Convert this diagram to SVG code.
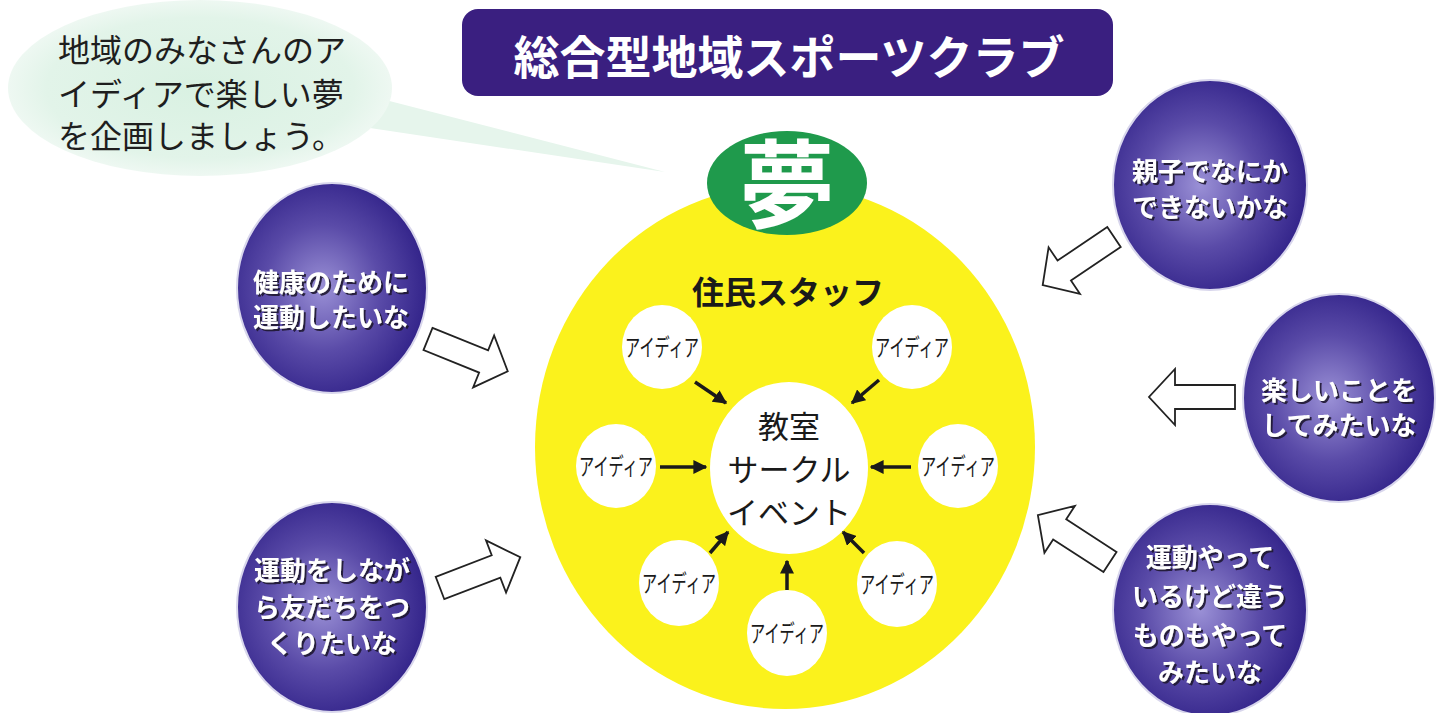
<svg xmlns="http://www.w3.org/2000/svg" width="1446" height="713" viewBox="0 0 1446 713">
<style>
text{font-family:"Noto Sans CJK JP","Noto Sans",sans-serif}
.bub{font-size:32px;fill:#1e1e1e}
.title{font-size:46px;font-weight:700;fill:#ffffff}
.pt{font-size:26px;font-weight:700;fill:#ffffff;text-anchor:middle}
.idea{font-size:24px;fill:#1a1a1a;text-anchor:middle}
.ctr{font-size:31px;fill:#1a1a1a;text-anchor:middle}
.staff{font-size:32px;font-weight:700;fill:#1a1a1a;text-anchor:middle}
.wc{fill:#ffffff}
.pc{fill:url(#pg);stroke:#d8d6ec;stroke-width:2}
.blk{fill:#ffffff;stroke:#222;stroke-width:1.8;stroke-linejoin:miter}
.ln{stroke:#1a1a1a;stroke-width:3.5;fill:none;marker-end:url(#ah)}
</style>
<defs>
<radialGradient id="pg" cx="0.45" cy="0.5" r="0.55">
<stop offset="0" stop-color="#9a90d6"/>
<stop offset="0.55" stop-color="#5a4ba8"/>
<stop offset="1" stop-color="#33248a"/>
</radialGradient>
<radialGradient id="bg" cx="0.5" cy="0.5" r="0.5">
<stop offset="0" stop-color="#d9f1e2"/>
<stop offset="0.8" stop-color="#e2f4e9"/>
<stop offset="1" stop-color="#eef8f2"/>
</radialGradient>
<marker id="ah" viewBox="0 0 10 10" refX="9" refY="5" markerWidth="4" markerHeight="4" orient="auto" markerUnits="strokeWidth">
<path d="M0,0 L10,5 L0,10 Z" fill="#1a1a1a"/>
</marker>
<filter id="sh" x="-10%" y="-20%" width="130%" height="150%">
<feDropShadow dx="2" dy="2" stdDeviation="0.6" flood-color="#1a1530" flood-opacity="0.9"/>
</filter>
<path id="arr" d="M0,-12 L60,-12 L60,-28 L86,0 L60,28 L60,12 L0,12 Z"/>
</defs>
<rect width="1446" height="713" fill="#ffffff"/>

<g id="speech-bubble">
<polygon points="370,96 665,172 370,128" fill="#e6f5ec"/>
<ellipse cx="200" cy="88" rx="192" ry="88" fill="url(#bg)"/>
<text class="bub" x="58" y="62">地域のみなさんのア</text>
<text class="bub" x="58" y="106">イディアで楽しい夢</text>
<text class="bub" x="58" y="148">を企画しましょう。</text>
</g>

<g id="title">
<rect x="462" y="9" width="651" height="87" rx="16" fill="#3a1f80"/>
<text class="title" x="789" y="74" text-anchor="middle">総合型地域スポーツクラブ</text>
</g>

<g id="yellow-circle">
<ellipse cx="785" cy="447" rx="250" ry="262" fill="#fbf21c"/>
<text class="staff" x="788" y="304">住民スタッフ</text>
</g>

<g id="dream">
<ellipse cx="787" cy="183" rx="80" ry="52" fill="#1f9a4c"/>
<text x="787" y="220" font-size="96" font-weight="700" fill="#ffffff" text-anchor="middle">夢</text>
</g>

<g id="center">
<ellipse cx="789" cy="468" rx="79" ry="86" class="wc"/>
<text class="ctr" x="789" y="438">教室</text>
<text class="ctr" x="789" y="481">サークル</text>
<text class="ctr" x="789" y="524">イベント</text>
</g>

<g id="idea-tl"><ellipse cx="662" cy="347" rx="40" ry="42" class="wc"/><text class="idea" x="662" y="356" textLength="74" lengthAdjust="spacingAndGlyphs">アイディア</text></g>
<g id="idea-tr"><ellipse cx="912" cy="347" rx="40" ry="42" class="wc"/><text class="idea" x="912" y="356" textLength="74" lengthAdjust="spacingAndGlyphs">アイディア</text></g>
<g id="idea-ml"><ellipse cx="616" cy="466" rx="40" ry="42" class="wc"/><text class="idea" x="616" y="475" textLength="74" lengthAdjust="spacingAndGlyphs">アイディア</text></g>
<g id="idea-mr"><ellipse cx="958" cy="466" rx="40" ry="42" class="wc"/><text class="idea" x="958" y="475" textLength="74" lengthAdjust="spacingAndGlyphs">アイディア</text></g>
<g id="idea-bl"><ellipse cx="679" cy="583" rx="40" ry="43" class="wc"/><text class="idea" x="679" y="592" textLength="74" lengthAdjust="spacingAndGlyphs">アイディア</text></g>
<g id="idea-bc"><ellipse cx="787" cy="633" rx="40" ry="43" class="wc"/><text class="idea" x="787" y="642" textLength="74" lengthAdjust="spacingAndGlyphs">アイディア</text></g>
<g id="idea-br"><ellipse cx="897" cy="584" rx="40" ry="43" class="wc"/><text class="idea" x="897" y="593" textLength="74" lengthAdjust="spacingAndGlyphs">アイディア</text></g>

<g id="p-kenko"><ellipse cx="332" cy="288" rx="95" ry="105" class="pc"/>
<g filter="url(#sh)"><text class="pt" x="331" y="292">健康のために</text><text class="pt" x="331" y="327">運動したいな</text></g></g>
<g id="p-tomodachi"><ellipse cx="332" cy="607" rx="95" ry="105" class="pc"/>
<g filter="url(#sh)"><text class="pt" x="332" y="580">運動をしなが</text><text class="pt" x="332" y="617">ら友だちをつ</text><text class="pt" x="332" y="653">くりたいな</text></g></g>
<g id="p-oyako"><ellipse cx="1210" cy="185" rx="97" ry="105" class="pc"/>
<g filter="url(#sh)"><text class="pt" x="1210" y="181">親子でなにか</text><text class="pt" x="1210" y="217">できないかな</text></g></g>
<g id="p-tanoshii"><ellipse cx="1339" cy="398" rx="96" ry="104" class="pc"/>
<g filter="url(#sh)"><text class="pt" x="1339" y="400">楽しいことを</text><text class="pt" x="1339" y="435">してみたいな</text></g></g>
<g id="p-chigau"><ellipse cx="1210" cy="610" rx="97" ry="106" class="pc"/>
<g filter="url(#sh)"><text class="pt" x="1210" y="567">運動やって</text><text class="pt" x="1210" y="606">いるけど違う</text><text class="pt" x="1210" y="645">ものもやって</text><text class="pt" x="1210" y="682">みたいな</text></g></g>

<g id="connectors">
<line class="ln" x1="695" y1="382" x2="726" y2="403"/>
<line class="ln" x1="879" y1="380" x2="852" y2="403"/>
<line class="ln" x1="660" y1="467" x2="706" y2="467"/>
<line class="ln" x1="911" y1="467" x2="871" y2="467"/>
<line class="ln" x1="710" y1="553" x2="728" y2="532"/>
<line class="ln" x1="787" y1="590" x2="787" y2="561"/>
<line class="ln" x1="864" y1="553" x2="843" y2="532"/>
<use href="#arr" class="blk" transform="translate(428,339) rotate(22)"/>
<use href="#arr" class="blk" transform="translate(440,588) rotate(-21)"/>
<use href="#arr" class="blk" transform="translate(1114,237) rotate(146)"/>
<use href="#arr" class="blk" transform="translate(1235,397) rotate(180)"/>
<use href="#arr" class="blk" transform="translate(1110,562) rotate(213)"/>
</g>
</svg>
